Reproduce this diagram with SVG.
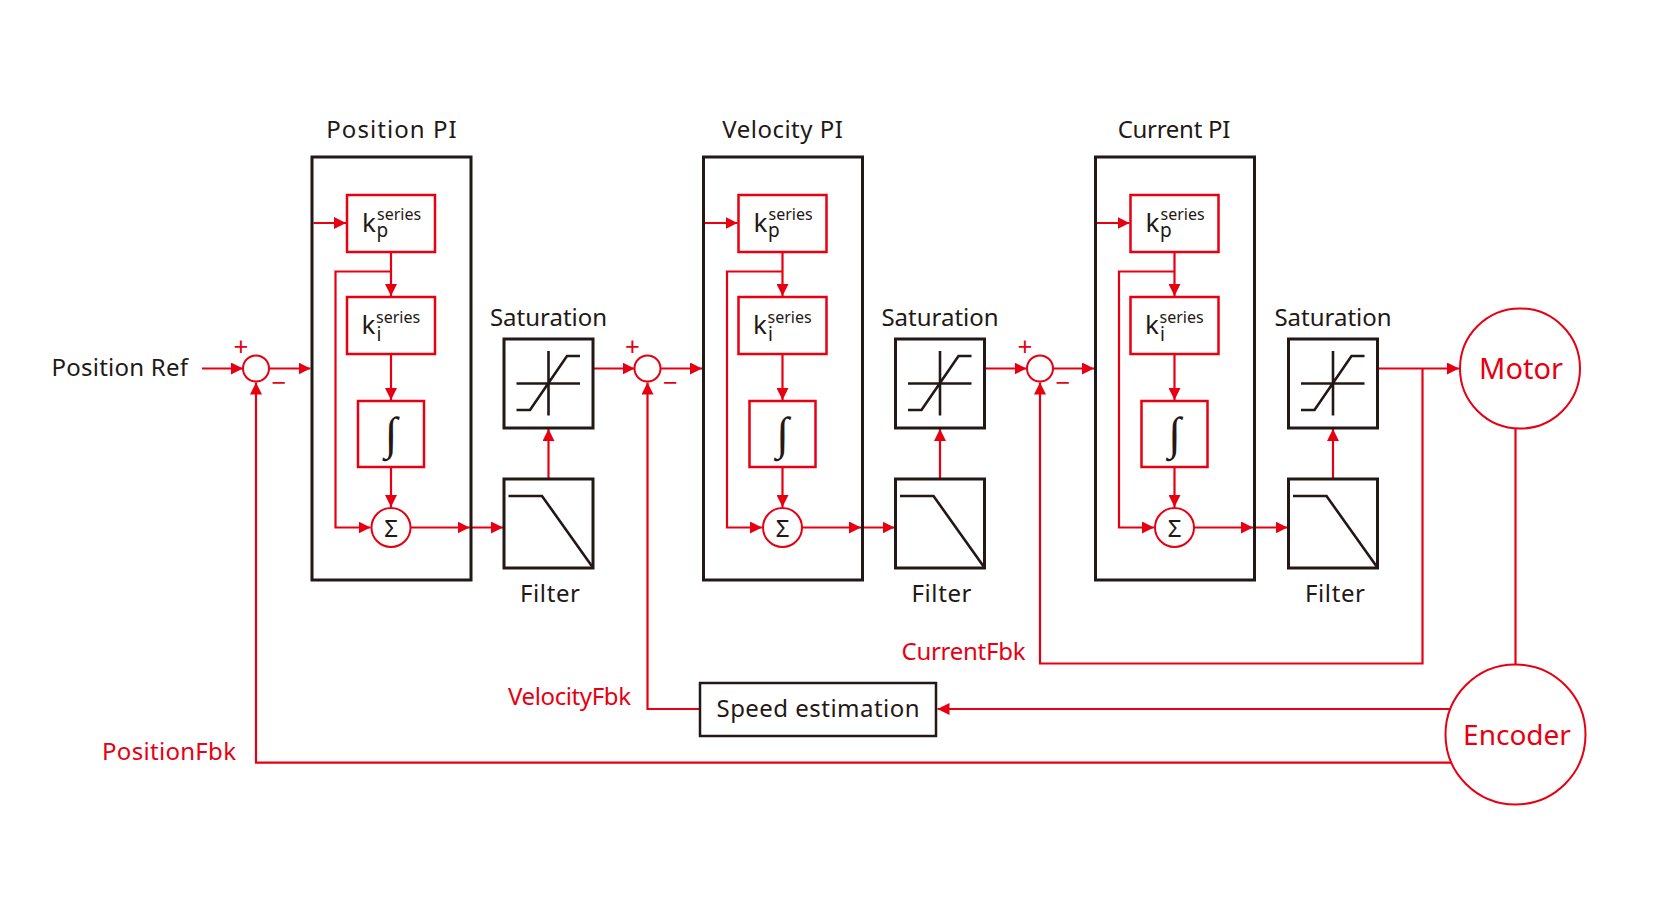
<svg xmlns="http://www.w3.org/2000/svg" width="1654" height="904" viewBox="0 0 1654 904">
<defs>
<style>
.t{font-family:"Noto Sans","Open Sans","Liberation Sans",sans-serif;font-size:24px;fill:#231815}
.r{fill:#e60012}
.c{text-anchor:middle}
.e{text-anchor:end}
.bb{fill:none;stroke:#231815;stroke-width:3}
.rb{fill:#fff;stroke:#e60012;stroke-width:2.5}
.rc{fill:#fff;stroke:#e60012;stroke-width:2}
.ic{fill:none;stroke:#231815;stroke-width:2.6}
.ln{fill:none;stroke:#e60012;stroke-width:2.2}
.ar{marker-end:url(#ah)}
.sup{font-size:16px}
.sub{font-size:19px}
.k{font-size:26px}
.int{font-family:"Liberation Serif","DejaVu Serif",serif;font-size:46px;fill:#231815}
.ps{font-family:"Noto Sans","Liberation Sans",sans-serif;font-size:26px;fill:#e60012;text-anchor:middle}
</style>
<marker id="ah" viewBox="0 0 12 12" markerWidth="12" markerHeight="12" refX="12" refY="6" orient="auto" markerUnits="userSpaceOnUse">
<path d="M0,0 L12,6 L0,12 z" fill="#e60012"/>
</marker>
</defs>
<rect width="1654" height="904" fill="#fff"/>

<!-- connectors -->
<g id="connectors">
<path class="ln ar" d="M202 368.5 H243"/>
<!-- stage 1 -->
<path class="ln ar" d="M269 368.5 H310.5"/>
<path class="ln ar" d="M313.5 223 H346"/>
<path class="ln ar" d="M391 252 V296"/>
<path class="ln ar" d="M391 271.5 H335.5 V527.5 H370.5"/>
<path class="ln ar" d="M391 354 V400"/>
<path class="ln ar" d="M391 467 V507"/>
<path class="ln ar" d="M410.5 527.5 H469.5"/>
<path class="ln ar" d="M469.5 527.5 H503"/>
<path class="ln ar" d="M548.5 479 V429"/>
<path class="ln ar" d="M593 368.5 H634.5"/>
<!-- stage 2 -->
<path class="ln ar" d="M660.5 368.5 H702"/>
<path class="ln ar" d="M705 223 H737.5"/>
<path class="ln ar" d="M782.5 252 V296"/>
<path class="ln ar" d="M782.5 271.5 H727 V527.5 H762"/>
<path class="ln ar" d="M782.5 354 V400"/>
<path class="ln ar" d="M782.5 467 V507"/>
<path class="ln ar" d="M802 527.5 H861"/>
<path class="ln ar" d="M861 527.5 H894.5"/>
<path class="ln ar" d="M940 479 V429"/>
<path class="ln ar" d="M984.5 368.5 H1026.5"/>
<!-- stage 3 -->
<path class="ln ar" d="M1053 368.5 H1094"/>
<path class="ln ar" d="M1097 223 H1129.5"/>
<path class="ln ar" d="M1174.5 252 V296"/>
<path class="ln ar" d="M1174.5 271.5 H1119 V527.5 H1154"/>
<path class="ln ar" d="M1174.5 354 V400"/>
<path class="ln ar" d="M1174.5 467 V507"/>
<path class="ln ar" d="M1194 527.5 H1253"/>
<path class="ln ar" d="M1253 527.5 H1287.5"/>
<path class="ln ar" d="M1333 479 V429"/>
<path class="ln ar" d="M1377.5 368.5 H1459"/>
<!-- feedback -->
<path class="ln ar" d="M1422.5 368.5 V663.5 H1040 V382.5"/>
<path class="ln" d="M1515.5 428.5 V664.5"/>
<path class="ln ar" d="M1450.3 709 H937.5"/>
<path class="ln ar" d="M700 709 H647.5 V382.5"/>
<path class="ln ar" d="M1451.4 762.7 H256 V382.5"/>
<text class="t r e" x="236" y="759.5" textLength="134" lengthAdjust="spacing">PositionFbk</text>
<text class="t r e" x="631" y="705" textLength="123" lengthAdjust="spacing">VelocityFbk</text>
<text class="t r e" x="1025.5" y="660" textLength="124" lengthAdjust="spacing">CurrentFbk</text>
</g>

<text class="t" x="51.5" y="376" textLength="136.5" lengthAdjust="spacing">Position Ref</text>

<!-- sums -->
<g id="sum1"><circle class="rc" cx="256" cy="368.5" r="13"/><text class="ps" x="241" y="356">+</text><text class="ps" x="279" y="392">−</text></g>
<g id="sum2"><circle class="rc" cx="647.5" cy="368.5" r="13"/><text class="ps" x="632.5" y="356">+</text><text class="ps" x="670.5" y="392">−</text></g>
<g id="sum3"><circle class="rc" cx="1040" cy="368.5" r="13"/><text class="ps" x="1025" y="356">+</text><text class="ps" x="1063" y="392">−</text></g>

<!-- PI stage 1 -->
<g id="posPI"><rect class="bb" x="312" y="157" width="159" height="423"/><text class="t c" x="391.5" y="137.5" textLength="130.5" lengthAdjust="spacing">Position PI</text></g>
<g id="kp1"><rect class="rb" x="347" y="195" width="88" height="57"/><text class="t" x="362" y="231.5"><tspan class="k">k</tspan><tspan class="sup" x="377" y="219.5">series</tspan><tspan class="sub" x="376.5" y="236.5">p</tspan></text></g>
<g id="ki1"><rect class="rb" x="347" y="297" width="88" height="57"/><text class="t" x="361.5" y="333.5"><tspan class="k">k</tspan><tspan class="sup" x="376" y="322.5">series</tspan><tspan class="sub" x="376.5" y="340.5">i</tspan></text></g>
<g id="int1"><rect class="rb" x="358" y="401" width="66" height="66"/><text class="int c" x="391" y="449">∫</text></g>
<g id="sig1"><circle class="rc" cx="391" cy="527.5" r="19.5"/><text class="t c" x="391" y="537">Σ</text></g>

<!-- PI stage 2 -->
<g id="velPI"><rect class="bb" x="703.5" y="157" width="159" height="423"/><text class="t c" x="782.6" y="137.5" textLength="120.5" lengthAdjust="spacing">Velocity PI</text></g>
<g id="kp2"><rect class="rb" x="738.5" y="195" width="88" height="57"/><text class="t" x="753.5" y="231.5"><tspan class="k">k</tspan><tspan class="sup" x="768.5" y="219.5">series</tspan><tspan class="sub" x="768" y="236.5">p</tspan></text></g>
<g id="ki2"><rect class="rb" x="738.5" y="297" width="88" height="57"/><text class="t" x="753" y="333.5"><tspan class="k">k</tspan><tspan class="sup" x="767.5" y="322.5">series</tspan><tspan class="sub" x="768" y="340.5">i</tspan></text></g>
<g id="int2"><rect class="rb" x="749.5" y="401" width="66" height="66"/><text class="int c" x="782.5" y="449">∫</text></g>
<g id="sig2"><circle class="rc" cx="782.5" cy="527.5" r="19.5"/><text class="t c" x="782.5" y="537">Σ</text></g>

<!-- PI stage 3 -->
<g id="curPI"><rect class="bb" x="1095.5" y="157" width="159" height="423"/><text class="t c" x="1174" y="137.5" textLength="112.6" lengthAdjust="spacing">Current PI</text></g>
<g id="kp3"><rect class="rb" x="1130.5" y="195" width="88" height="57"/><text class="t" x="1145.5" y="231.5"><tspan class="k">k</tspan><tspan class="sup" x="1160.5" y="219.5">series</tspan><tspan class="sub" x="1160" y="236.5">p</tspan></text></g>
<g id="ki3"><rect class="rb" x="1130.5" y="297" width="88" height="57"/><text class="t" x="1145" y="333.5"><tspan class="k">k</tspan><tspan class="sup" x="1159.5" y="322.5">series</tspan><tspan class="sub" x="1160" y="340.5">i</tspan></text></g>
<g id="int3"><rect class="rb" x="1141.5" y="401" width="66" height="66"/><text class="int c" x="1174.5" y="449">∫</text></g>
<g id="sig3"><circle class="rc" cx="1174.5" cy="527.5" r="19.5"/><text class="t c" x="1174.5" y="537">Σ</text></g>

<!-- saturation / filter -->
<g id="sat1"><rect class="bb" x="504" y="339" width="89" height="89"/><path class="ic" d="M548.5 351 V415.5 M516.5 383.5 H580 M516.5 410 H530 L567 356 H580"/><text class="t c" x="548.5" y="326">Saturation</text></g>
<g id="filt1"><rect class="bb" x="504" y="479" width="89" height="89"/><path class="ic" d="M508.5 496 H542 L592.5 567"/><text class="t c" x="550" y="602" textLength="60" lengthAdjust="spacing">Filter</text></g>
<g id="sat2"><rect class="bb" x="895.5" y="339" width="89" height="89"/><path class="ic" d="M940 351 V415.5 M908 383.5 H971.5 M908 410 H921.5 L958.5 356 H971.5"/><text class="t c" x="940" y="326">Saturation</text></g>
<g id="filt2"><rect class="bb" x="895.5" y="479" width="89" height="89"/><path class="ic" d="M900 496 H933.5 L984 567"/><text class="t c" x="941.5" y="602" textLength="60" lengthAdjust="spacing">Filter</text></g>
<g id="sat3"><rect class="bb" x="1288.5" y="339" width="89" height="89"/><path class="ic" d="M1333 351 V415.5 M1301 383.5 H1364.5 M1301 410 H1314.5 L1351.5 356 H1364.5"/><text class="t c" x="1333" y="326">Saturation</text></g>
<g id="filt3"><rect class="bb" x="1288.5" y="479" width="89" height="89"/><path class="ic" d="M1293 496 H1326.5 L1377 567"/><text class="t c" x="1335" y="602" textLength="60" lengthAdjust="spacing">Filter</text></g>

<!-- motor, encoder, speed estimation -->
<g id="motor"><circle class="rc" cx="1520" cy="368.5" r="60"/><text class="t r c" style="font-size:29px" x="1521" y="378.5">Motor</text></g>
<g id="encoder"><circle class="rc" cx="1515.5" cy="734.5" r="70"/><text class="t r c" style="font-size:28px" x="1517" y="744.5">Encoder</text></g>
<g id="speedEst"><rect fill="#fff" stroke="#231815" stroke-width="2.5" x="700" y="683" width="236" height="53"/><text class="t c" x="818" y="717" textLength="203" lengthAdjust="spacing">Speed estimation</text></g>
</svg>
